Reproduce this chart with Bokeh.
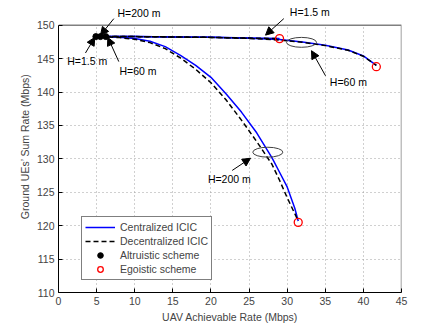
from bokeh.plotting import figure
from bokeh.models import (Range1d, Label, Arrow, NormalHead, Legend, LegendItem,
                          FixedTicker)
from bokeh.embed import file_html
from bokeh.resources import INLINE

# ---- data ----
x_ticks = [0, 5, 10, 15, 20, 25, 30, 35, 40, 45]
y_ticks = [110, 115, 120, 125, 130, 135, 140, 145, 150]

# H = 1.5 m
h15_cen_x = [4.9, 10, 15, 20, 25, 29.0]
h15_cen_y = [148.3, 148.3, 148.25, 148.2, 148.1, 148.0]
h15_dec_x = [4.9, 10, 15, 20, 25, 29.0]
h15_dec_y = [148.3, 148.3, 148.25, 148.18, 148.08, 148.0]

# H = 60 m
h60_cen_x = [6.2, 10, 15, 20, 25, 29, 32, 35, 38, 40, 41.7]
h60_cen_y = [148.3, 148.3, 148.25, 148.2, 148.05, 147.85, 147.5, 147.0, 146.3, 145.4, 144.0]
h60_dec_x = [6.2, 10, 15, 20, 25, 29, 32, 35, 38, 40, 41.7]
h60_dec_y = [148.3, 148.3, 148.25, 148.18, 148.03, 147.8, 147.45, 146.95, 146.25, 145.35, 144.0]

# H = 200 m
h200_cen_x = [5.5, 8, 10, 12, 14, 16, 18, 20, 22, 24, 26, 28, 29, 30, 31, 31.45]
h200_cen_y = [148.3, 148.2, 148.0, 147.6, 146.8, 145.5, 144.0, 142.2, 139.7, 137.0, 133.9,
              130.2, 128.0, 125.8, 122.6, 120.7]
h200_dec_x = [5.5, 8, 10, 12, 14, 16, 18, 20, 22, 24, 26, 28, 29, 30, 31, 31.45]
h200_dec_y = [148.3, 148.15, 147.9, 147.4, 146.5, 145.1, 143.4, 141.4, 138.8, 135.8, 132.6,
              129.2, 126.8, 124.2, 121.8, 120.7]

# altruistic (black dots) and egoistic (red circles) operating points
altru_x = [4.9, 5.5, 6.2]
altru_y = [148.3, 148.3, 148.3]
ego_x = [29.0, 41.7, 31.45]
ego_y = [148.0, 143.8, 120.5]

FONT = "Liberation Sans"
FS = "10.5px"

X0, X1 = x_ticks[0], x_ticks[-1]
Y0, Y1 = y_ticks[0], y_ticks[-1]
Y_TOP = Y1 + 25 / 6.75   # extra head-room above the axes box for the annotations

p = figure(width=435, height=325, output_backend="svg", toolbar_location=None,
           x_range=Range1d(X0, X1), y_range=Range1d(Y0, Y_TOP),
           min_border_left=58, min_border_right=34, min_border_top=0,
           min_border_bottom=30)
p.background_fill_color = "white"
p.outline_line_color = None

for ax in (p.xaxis, p.yaxis):
    ax.major_label_text_font = FONT
    ax.major_label_text_font_size = FS
    ax.axis_label_text_font = FONT
    ax.axis_label_text_font_size = FS
    ax.axis_label_text_font_style = "normal"
    ax.major_tick_out = 0
    ax.major_tick_in = 4
    ax.minor_tick_out = 0
    ax.minor_tick_in = 0
    ax.axis_line_color = "black"
    ax.major_tick_line_color = "black"
    ax.major_label_standoff = 4
    ax.axis_label_standoff = 3

p.yaxis.bounds = (Y0, Y1)
p.xaxis.ticker = FixedTicker(ticks=x_ticks)
p.yaxis.ticker = FixedTicker(ticks=y_ticks)
p.xaxis.axis_label = "UAV Achievable Rate (Mbps)"
p.yaxis.axis_label = "Ground UEs\u2019 Sum Rate (Mbps)"

for g in (p.xgrid, p.ygrid):
    g.grid_line_color = "#a0a0a0"
    g.grid_line_dash = "1 3"
    g.grid_line_width = 1

# hide the grid in the head-room and draw the top/right box edges
p.quad(left=[X0], right=[X1], bottom=[Y1], top=[Y_TOP], fill_color="white",
       line_color=None)
p.line([X0, X1, X1], [Y1, Y1, Y0], line_color="#808080", line_width=1.5)

BLUE = "#0000ff"
cen_renderers = []
dec_renderers = []
for xs, ys in ((h15_cen_x, h15_cen_y), (h60_cen_x, h60_cen_y), (h200_cen_x, h200_cen_y)):
    cen_renderers.append(p.line(xs, ys, line_color=BLUE, line_width=1.5))
for xs, ys in ((h15_dec_x, h15_dec_y), (h60_dec_x, h60_dec_y), (h200_dec_x, h200_dec_y)):
    dec_renderers.append(p.line(xs, ys, line_color="black", line_width=1.5, line_dash="5 3"))

altru = p.scatter(altru_x, altru_y, marker="circle", size=6, fill_color="black",
                  line_color="black")
ego = p.scatter(ego_x, ego_y, marker="circle", size=8, fill_color=None,
                line_color="red", line_width=1.3)

# ellipses grouping the curves
p.ellipse(x=[31.88, 27.46], y=[147.44, 131.0], width=3.94, height=1.48,
          fill_color=None, line_color="#404040", line_width=1)

# annotations
labels = [
    ("H=200 m", 7.74, 151.85),
    ("H=1.5 m", 1.14, 144.67),
    ("H=60 m", 8.0, 143.2),
    ("H=1.5 m", 30.35, 152.0),
    ("H=60 m", 35.6, 141.5),
    ("H=200 m", 19.6, 126.96),
]
for t, lx, ly in labels:
    p.add_layout(Label(x=lx, y=ly, text=t, text_font=FONT, text_font_size=FS,
                       text_baseline="middle", text_align="left", text_color="black"))

arrows = [
    (7.26, 150.99, 5.51, 148.52),
    (3.54, 145.85, 4.76, 148.18),
    (7.91, 144.56, 6.47, 148.18),
    (29.56, 150.99, 27.16, 148.52),
    (35.03, 142.44, 33.19, 146.19),
    (22.79, 128.27, 25.19, 130.1),
]
for x0, y0, x1, y1 in arrows:
    p.add_layout(Arrow(end=NormalHead(size=8, fill_color="black", line_color="black",
                                      line_width=1),
                       x_start=x0, y_start=y0, x_end=x1, y_end=y1,
                       line_color="black", line_width=1))

legend = Legend(items=[
    LegendItem(label="Centralized ICIC", renderers=[cen_renderers[0]]),
    LegendItem(label="Decentralized ICIC", renderers=[dec_renderers[0]]),
    LegendItem(label="Altruistic scheme", renderers=[altru]),
    LegendItem(label="Egoistic scheme", renderers=[ego]),
], location=(23, 12))
legend.label_text_font = FONT
legend.label_text_font_size = FS
legend.label_height = 14
legend.glyph_height = 14
legend.glyph_width = 30
legend.spacing = 0
legend.padding = 3
legend.margin = 0
legend.label_standoff = 5
legend.border_line_color = "black"
legend.border_line_width = 1
legend.background_fill_alpha = 1
p.add_layout(legend, "center")

open("out.html", "w").write(file_html(p, INLINE))
